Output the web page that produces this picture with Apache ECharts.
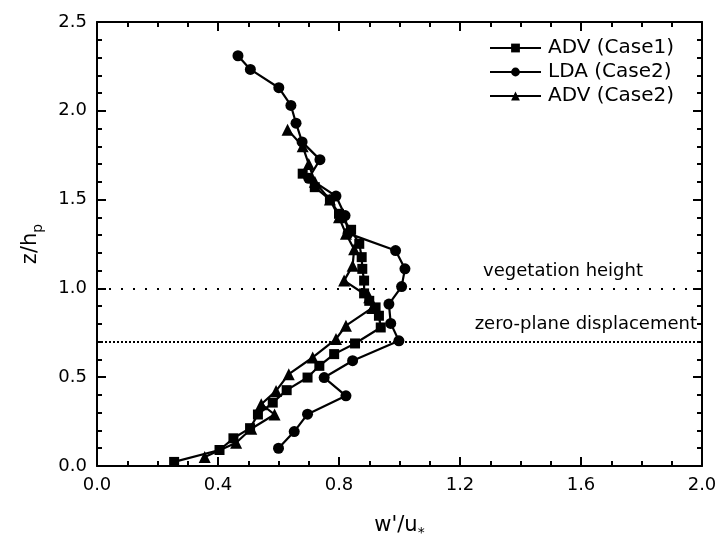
<!DOCTYPE html>
<html>
<head>
<meta charset="utf-8">
<script src="https://cdn.jsdelivr.net/npm/echarts@6/dist/echarts.min.js"></script>
<style>html,body{margin:0;padding:0;background:#fff}#c{width:722px;height:555px}</style>
</head>
<body>
<div id="c"></div>
<script>
// ADV (Case1): [w'/u*, z/hp]
var advCase1 = [[0.255,0.023],[0.405,0.09],[0.451,0.156],[0.506,0.213],[0.532,0.29],[0.581,0.357],[0.627,0.427],[0.696,0.498],[0.735,0.564],[0.784,0.63],[0.853,0.69],[0.938,0.78],[0.932,0.846],[0.921,0.893],[0.90,0.93],[0.883,0.972],[0.883,1.044],[0.877,1.11],[0.875,1.176],[0.867,1.251],[0.84,1.33],[0.80,1.42],[0.77,1.50],[0.72,1.57],[0.68,1.646]];
// LDA (Case2)
var ldaCase2 = [[0.60,0.10],[0.652,0.194],[0.696,0.292],[0.823,0.395],[0.751,0.498],[0.845,0.593],[0.998,0.705],[0.971,0.803],[0.965,0.912],[1.007,1.01],[1.018,1.11],[0.987,1.213],[0.83,1.31],[0.82,1.41],[0.79,1.52],[0.70,1.62],[0.737,1.725],[0.678,1.825],[0.658,1.93],[0.641,2.03],[0.601,2.13],[0.507,2.233],[0.466,2.31]];
// ADV (Case2)
var advCase2 = [[0.356,0.05],[0.46,0.131],[0.51,0.21],[0.587,0.29],[0.543,0.348],[0.592,0.423],[0.634,0.517],[0.713,0.611],[0.79,0.715],[0.823,0.79],[0.91,0.89],[0.90,0.95],[0.817,1.044],[0.845,1.128],[0.85,1.22],[0.823,1.308],[0.80,1.40],[0.77,1.50],[0.72,1.60],[0.70,1.70],[0.68,1.80],[0.63,1.894]];
var refLines = [{name:'vegetation height', value:1.0}, {name:'zero-plane displacement', value:0.7}];
var xTicks = {min:0, max:2.0, interval:0.4};
var yTicks = {min:0, max:2.5, interval:0.5};

var FONT = 'DejaVu Sans';
var chart = echarts.init(document.getElementById('c'), null, {renderer:'canvas'});
function fmt(v){ return v.toFixed(1); }
function axisCommon(show, minorSplit){
  return {
    axisLine:{show:true, onZero:false, lineStyle:{color:'#000', width:2}},
    axisTick:{show:true, inside:true, length:9, lineStyle:{color:'#000', width:2}},
    minorTick:{show:true, splitNumber:minorSplit, length:5, lineStyle:{color:'#000', width:2}},
    splitLine:{show:false},
    axisLabel:{show:show, color:'#000', fontFamily:FONT, fontSize:18, margin:10, formatter:fmt}
  };
}
var lineSeries = function(name, data, symbol, size){
  return {name:name, type:'line', data:data, symbol:symbol, symbolSize:size,
    lineStyle:{color:'#000', width:2.2}, itemStyle:{color:'#000'}, z:3, animation:false};
};
var s1 = lineSeries('ADV (Case1)', advCase1, 'rect', 10);
var s2 = lineSeries('LDA (Case2)', ldaCase2, 'circle', 11);
var s3 = lineSeries('ADV (Case2)', advCase2, 'triangle', 12);
s1.markLine = {silent:true, symbol:'none', animation:false,
  data:[
    {yAxis:refLines[0].value, lineStyle:{color:'#000', width:2.2, type:[2,10]},
      label:{show:true, formatter:refLines[0].name, position:'insideEndTop', distance:[59,8], color:'#000', fontFamily:FONT, fontSize:18}},
    {yAxis:refLines[1].value, lineStyle:{color:'#000', width:2.2, type:[2,2]},
      label:{show:true, formatter:refLines[1].name, position:'insideEndTop', distance:[5,8], color:'#000', fontFamily:FONT, fontSize:18}}
  ]};

chart.setOption({
  backgroundColor:'#fff',
  animation:false,
  grid:{left:97, right:20, top:22, bottom:89},
  legend:{
    data:['ADV (Case1)','LDA (Case2)','ADV (Case2)'],
    orient:'vertical', left:484, top:33, itemWidth:51, itemHeight:11, itemGap:4,
    textStyle:{color:'#000', fontFamily:FONT, fontSize:20, padding:[0,0,0,2]}
  },
  xAxis:[
    Object.assign({type:'value', position:'bottom', min:xTicks.min, max:xTicks.max, interval:xTicks.interval,
      name:"{a|w'/u}{s|*}", nameLocation:'middle', nameGap:46,
      nameTextStyle:{rich:{a:{fontFamily:FONT, fontSize:21, color:'#000'}, s:{fontFamily:FONT, fontSize:14, color:'#000', padding:[14,0,0,0]}}}}, axisCommon(true,4)),
    Object.assign({type:'value', position:'top', min:xTicks.min, max:xTicks.max, interval:xTicks.interval}, axisCommon(false,4))
  ],
  yAxis:[
    Object.assign({type:'value', position:'left', min:yTicks.min, max:yTicks.max, interval:yTicks.interval,
      name:'{a|z/h}{s|p}', nameLocation:'middle', nameGap:52, nameRotate:90,
      nameTextStyle:{rich:{a:{fontFamily:FONT, fontSize:21, color:'#000'}, s:{fontFamily:FONT, fontSize:14, color:'#000', padding:[14,0,0,0]}}}}, axisCommon(true,5)),
    Object.assign({type:'value', position:'right', min:yTicks.min, max:yTicks.max, interval:yTicks.interval}, axisCommon(false,5))
  ],
  series:[s1, s2, s3]
});
</script>
</body>
</html>
